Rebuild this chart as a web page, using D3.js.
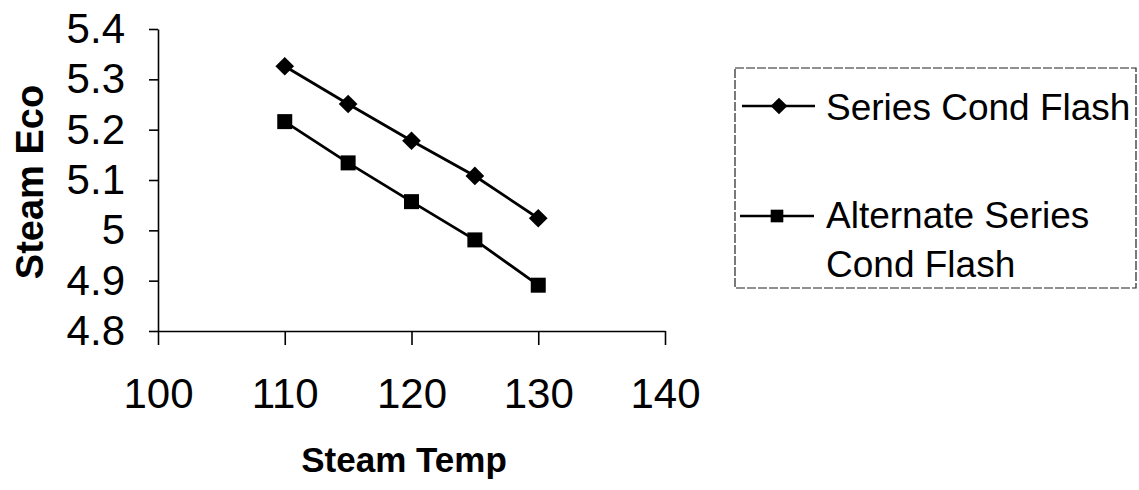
<html>
<head>
<title>Steam Eco vs Steam Temp</title>
<script src="https://d3js.org/d3.v7.min.js"></script>
<style>
body { margin: 0; background: #fff; }
svg { display: block; font-family: 'Liberation Sans', Arial, sans-serif; }
.axis path, .axis line { stroke: #000; stroke-width: 1.6; }
.axis text { font-size: 42px; fill: #000; }
.series-line { fill: none; stroke: #000; stroke-width: 2.8; }
.axis-title { font-size: 35px; font-weight: bold; fill: #000; }
.legend-box { fill: none; stroke: #222; stroke-width: 1.2; stroke-dasharray: 9,2; }
.legend text { font-size: 37px; fill: #000; }
</style>
</head>
<body>
<svg></svg>
<script>

// data
var steamTemp = [110, 115, 120, 125, 130];
var seriesCondFlash = [5.326, 5.251, 5.178, 5.108, 5.024];
var altSeriesCondFlash = [5.216, 5.134, 5.057, 4.981, 4.891];
var xTicks = [100, 110, 120, 130, 140];
var yTicks = [4.8, 4.9, 5.0, 5.1, 5.2, 5.3, 5.4];
var seriesNames = ['Series Cond Flash', 'Alternate Series Cond Flash'];

var width = 1139,
    height = 490;

var svg = d3.select('svg')
  .attr('width', width)
  .attr('height', height);

var x = d3.scaleLinear()
  .domain([100, 140])
  .range([158, 665]);

var y = d3.scaleLinear()
  .domain([4.8, 5.4])
  .range([331, 29]);

// axes
svg.append('g')
  .attr('class', 'axis')
  .attr('transform', 'translate(0,' + y(4.8) + ')')
  .call(d3.axisBottom(x).tickValues(xTicks).tickSize(14).tickSizeOuter(0).tickPadding(33));

svg.append('g')
  .attr('class', 'axis')
  .attr('transform', 'translate(' + x(100) + ',0)')
  .call(d3.axisLeft(y).tickValues(yTicks).tickSize(9).tickSizeOuter(0).tickPadding(24)
    .tickFormat(function(d) { return String(d); }));

// axis titles
svg.append('text')
  .attr('class', 'axis-title')
  .attr('x', 404)
  .attr('y', 472)
  .attr('text-anchor', 'middle')
  .text('Steam Temp');

svg.append('text')
  .attr('class', 'axis-title')
  .attr('transform', 'translate(43,182) rotate(-90)')
  .attr('text-anchor', 'middle')
  .style('font-size', '38px')
  .text('Steam Eco');

var line = d3.line()
  .x(function(d) { return x(d[0]); })
  .y(function(d) { return y(d[1]); });

var diamond = d3.symbol().type(d3.symbolSquare).size(175);
var square = d3.symbol().type(d3.symbolSquare).size(225);

function drawSeries(values, sym, rot) {
  var pts = steamTemp.map(function(t, i) { return [t, values[i]]; });
  svg.append('path')
    .datum(pts)
    .attr('class', 'series-line')
    .attr('d', line);
  svg.append('g').selectAll('path')
    .data(pts)
    .enter().append('path')
    .attr('d', sym)
    .attr('fill', '#000')
    .attr('transform', function(d) {
      return 'translate(' + x(d[0]) + ',' + y(d[1]) + ') rotate(' + rot + ')';
    });
}

drawSeries(seriesCondFlash, diamond, 45);
drawSeries(altSeriesCondFlash, square, 0);

// legend
var legend = svg.append('g').attr('class', 'legend');

legend.append('rect')
  .attr('class', 'legend-box')
  .attr('x', 735)
  .attr('y', 68)
  .attr('width', 401)
  .attr('height', 220);

legend.append('line')
  .attr('x1', 742).attr('x2', 815)
  .attr('y1', 106).attr('y2', 106)
  .attr('stroke', '#000').attr('stroke-width', 2.5);
legend.append('path')
  .attr('d', d3.symbol().type(d3.symbolSquare).size(140))
  .attr('transform', 'translate(779,106) rotate(45)');
legend.append('text')
  .attr('x', 826).attr('y', 120)
  .text(seriesNames[0]);

legend.append('line')
  .attr('x1', 740).attr('x2', 814)
  .attr('y1', 216).attr('y2', 216)
  .attr('stroke', '#000').attr('stroke-width', 2.5);
legend.append('path')
  .attr('d', d3.symbol().type(d3.symbolSquare).size(160))
  .attr('transform', 'translate(777,216)');
legend.append('text')
  .attr('x', 826).attr('y', 228)
  .text('Alternate Series');
legend.append('text')
  .attr('x', 826).attr('y', 277)
  .text('Cond Flash');

</script>
</body>
</html>
